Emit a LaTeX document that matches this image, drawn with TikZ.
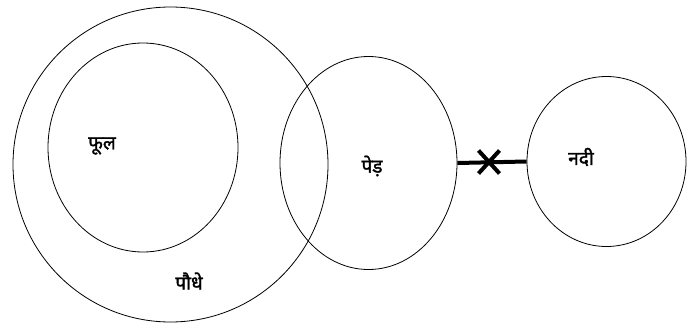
\documentclass[tikz,border=0pt]{standalone}
\usepackage{fontspec}
\newfontfamily\devfont[Script=Devanagari,FakeBold=1.6]{Noto Sans}
\usetikzlibrary{shapes.geometric,shapes.misc}
\begin{document}
\begin{tikzpicture}[x=1pt,y=-1pt,
  ring/.style={draw=black,line width=0.8pt,ellipse,inner sep=0pt},
  lbl/.style={font=\devfont\fontsize{19}{22}\selectfont,inner sep=0pt},
  bar/.style={line width=4pt},
  xmark/.style={draw=black,cross out,line width=4pt,minimum width=17pt,minimum height=19pt,inner sep=0pt}]
\useasboundingbox (0,0) rectangle (698,324);
\node[ring,minimum width=315pt,minimum height=315pt] (plant) at (170.5,164.5) {};
\node[ring,minimum width=190pt,minimum height=209pt] (flower) at (143,147.5) {};
\node[ring,minimum width=177pt,minimum height=213pt] (tree) at (368.5,163) {};
\node[ring,minimum width=159pt,minimum height=170pt] (river) at (606.5,161.5) {};
\draw[bar] (tree.east) -- (river.west);
\node[xmark] (cut) at (489,162) {};
\node[lbl] (tflower) at (102,146) {फूल};
\node[lbl] (tplant) at (189,281) {पौधे};
\node[lbl] (ttree) at (372,166) {पेड़};
\node[lbl] (triver) at (581,157) {नदी};
\end{tikzpicture}
\end{document}
